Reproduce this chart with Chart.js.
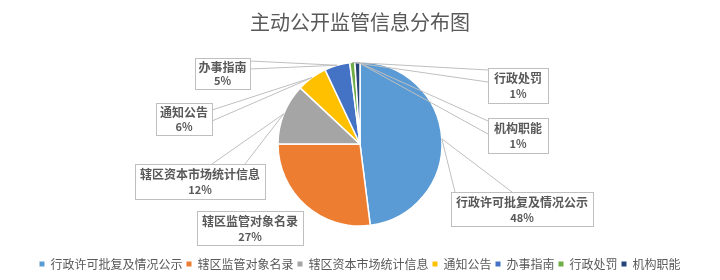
<!DOCTYPE html>
<html>
<head>
    <meta charset="utf-8">
    <title>主动公开监管信息分布图</title>
    <style>
        html, body {
            margin: 0;
            padding: 0;
            background: #fff;
        }
        #wrap {
            width: 720px;
            height: 280px;
        }
    </style>
</head>
<body>
    <div id="wrap"><canvas id="pie"></canvas></div>
    <script src="https://cdn.jsdelivr.net/npm/chart.js"></script>
    <script>
        const categories = ['行政许可批复及情况公示', '辖区监管对象名录', '辖区资本市场统计信息', '通知公告', '办事指南', '行政处罚', '机构职能'];
        const values = [48, 27, 12, 6, 5, 1, 1];
        const sliceColors = ['#5B9BD5', '#ED7D31', '#A5A5A5', '#FFC000', '#4472C4', '#70AD47', '#264478'];

        const FONT = '"Noto Sans CJK SC", "Noto Sans", sans-serif';
        const TEXT = '#595959';

        // callout boxes: x, y, w, h, side the wedge leaves from, two base offsets along that side
        const callouts = [
            { x: 451, y: 192, w: 142, h: 34, side: 'top', a: 4, b: 61 },
            { x: 197, y: 211, w: 106, h: 34, side: null },
            { x: 135, y: 164, w: 130, h: 35, side: 'top', a: 77, b: 110 },
            { x: 156, y: 103, w: 56, h: 32, side: 'right', a: 7, b: 18 },
            { x: 195, y: 58, w: 55, h: 31, side: 'right', a: 3, b: 11 },
            { x: 488, y: 68, w: 60, h: 35, side: 'left', a: 2, b: 14 },
            { x: 488, y: 118, w: 60, h: 35, side: 'left', a: 3, b: 16 }
        ];

        const calloutPlugin = {
            id: 'callouts',
            afterDatasetsDraw(chart) {
                const ctx = chart.ctx;
                const meta = chart.getDatasetMeta(0);
                const total = values.reduce((s, v) => s + v, 0);
                ctx.save();
                meta.data.forEach((arc, i) => {
                    const c = callouts[i];
                    const p = arc.getProps(['x', 'y', 'startAngle', 'endAngle', 'outerRadius'], true);
                    const mid = (p.startAngle + p.endAngle) / 2;
                    const ax = p.x + Math.cos(mid) * p.outerRadius;
                    const ay = p.y + Math.sin(mid) * p.outerRadius;

                    // wedge lines
                    if (c.side) {
                        let b1, b2;
                        if (c.side === 'top') { b1 = [c.x + c.a, c.y]; b2 = [c.x + c.b, c.y]; }
                        if (c.side === 'right') { b1 = [c.x + c.w, c.y + c.a]; b2 = [c.x + c.w, c.y + c.b]; }
                        if (c.side === 'left') { b1 = [c.x, c.y + c.a]; b2 = [c.x, c.y + c.b]; }
                        ctx.strokeStyle = '#BFBFBF';
                        ctx.lineWidth = 1;
                        ctx.beginPath();
                        ctx.moveTo(b1[0], b1[1]);
                        ctx.lineTo(ax, ay);
                        ctx.lineTo(b2[0], b2[1]);
                        ctx.stroke();
                    }

                    // box
                    ctx.fillStyle = '#fff';
                    ctx.fillRect(c.x, c.y, c.w, c.h);
                    ctx.strokeStyle = '#BFBFBF';
                    ctx.lineWidth = 1;
                    ctx.strokeRect(c.x + 0.5, c.y + 0.5, c.w, c.h);

                    // text
                    const cx = c.x + c.w / 2;
                    ctx.fillStyle = TEXT;
                    ctx.textAlign = 'center';
                    ctx.textBaseline = 'middle';
                    ctx.font = 'bold 12px ' + FONT;
                    ctx.fillText(categories[i], cx, c.y + c.h * 0.31);
                    ctx.font = 'bold 11px ' + FONT;
                    ctx.fillText(Math.round(values[i] / total * 100) + '%', cx, c.y + c.h * 0.75);
                });
                ctx.restore();
            }
        };

        new Chart(document.getElementById('pie'), {
            type: 'pie',
            data: {
                labels: categories,
                datasets: [{
                    data: values,
                    backgroundColor: sliceColors,
                    borderColor: '#fff',
                    borderWidth: 1.5,
                    radius: 82
                }]
            },
            options: {
                responsive: true,
                maintainAspectRatio: false,
                animation: false,
                layout: { padding: { top: 0, bottom: 0, left: 0, right: 0 } },
                plugins: {
                    title: {
                        display: true,
                        text: '主动公开监管信息分布图',
                        color: TEXT,
                        font: { family: FONT, size: 20, weight: 'normal' },
                        padding: { top: 10, bottom: 0 }
                    },
                    legend: {
                        position: 'bottom',
                        labels: {
                            color: TEXT,
                            font: { family: FONT, size: 12 },
                            boxWidth: 5,
                            boxHeight: 5,
                            padding: 4,
                            generateLabels(chart) {
                                return categories.map((name, i) => ({
                                    text: name,
                                    fillStyle: sliceColors[i],
                                    strokeStyle: sliceColors[i],
                                    lineWidth: 0,
                                    fontColor: TEXT,
                                    index: i,
                                    hidden: false
                                }));
                            }
                        }
                    },
                    tooltip: { enabled: false }
                }
            },
            plugins: [calloutPlugin]
        });
    </script>
</body>
</html>
